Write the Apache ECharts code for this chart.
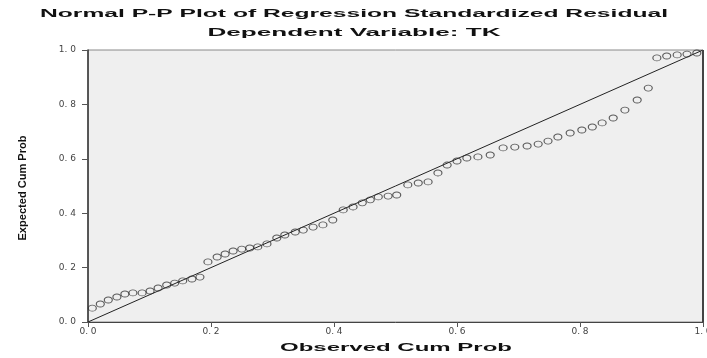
<!DOCTYPE html>
<html><head><meta charset="utf-8">
<script src="https://cdn.jsdelivr.net/npm/echarts@6/dist/echarts.min.js"></script>
<style>html,body{margin:0;padding:0;background:#fff}#c{width:707px;height:358px}</style>
</head><body><div id="c"></div><script>
const titleText = 'Normal P-P Plot of Regression Standardized Residual';
const subtitleText = 'Dependent Variable: TK';
const xAxisName = 'Observed Cum Prob';
const yAxisName = 'Expected Cum Prob';
const tickValues = [0, 0.2, 0.4, 0.6, 0.8, 1.0];
const refLineX = [0, 1];
const refLineY = [0, 1];
const observedCumProb = [
  0.007, 0.020, 0.033, 0.047, 0.060, 0.073, 0.088, 0.101, 0.114, 0.128,
  0.141, 0.154, 0.169, 0.182, 0.195, 0.210, 0.223, 0.236, 0.250, 0.263,
  0.276, 0.291, 0.307, 0.320, 0.337, 0.350, 0.366, 0.382, 0.398, 0.415,
  0.431, 0.446, 0.459, 0.472, 0.488, 0.502, 0.520, 0.537, 0.553, 0.569,
  0.584, 0.600, 0.616, 0.634, 0.654, 0.675, 0.694, 0.714, 0.732, 0.748,
  0.764, 0.784, 0.803, 0.820, 0.836, 0.854, 0.873, 0.893, 0.911, 0.925,
  0.941, 0.958, 0.974, 0.990
];
const expectedCumProb = [
  0.051, 0.066, 0.081, 0.092, 0.103, 0.107, 0.107, 0.114, 0.125, 0.136,
  0.143, 0.151, 0.158, 0.165, 0.221, 0.239, 0.250, 0.261, 0.268, 0.272,
  0.276, 0.287, 0.309, 0.320, 0.331, 0.338, 0.349, 0.357, 0.375, 0.412,
  0.423, 0.438, 0.449, 0.460, 0.463, 0.467, 0.504, 0.511, 0.515, 0.548,
  0.577, 0.592, 0.603, 0.607, 0.614, 0.640, 0.643, 0.647, 0.654, 0.665,
  0.680, 0.695, 0.706, 0.717, 0.732, 0.750, 0.779, 0.816, 0.860, 0.971,
  0.978, 0.982, 0.985, 0.989
];

function measure(text, font) {
  const ctx = document.createElement('canvas').getContext('2d');
  ctx.font = font;
  return ctx.measureText(text).width;
}
function stretchedText(text, size, target, cx, cy, rotation) {
  const font = 'bold ' + size + 'px "Liberation Sans"';
  const w = measure(text, font);
  return {
    type: 'text', x: cx, y: cy, rotation: rotation || 0,
    scaleX: target / w, scaleY: 1,
    style: { text: text, x: 0, y: 0, textAlign: 'center', textVerticalAlign: 'middle',
      font: font, fill: '#111' }
  };
}

const chart = echarts.init(document.getElementById('c'), null, { renderer: 'canvas' });
const labelStyle = { fontSize: 9, color: '#444', fontFamily: 'DejaVu Sans',
  formatter: v => tickValues.indexOf(v) >= 0 ? v.toFixed(1).replace('.', '. ') : '' };
chart.setOption({
  animation: false,
  backgroundColor: '#fff',
  grid: { left: 88, right: 4, top: 50, bottom: 36, show: true, outerBoundsMode: 'none',
    containLabel: false,
    backgroundColor: '#efefef', borderColor: '#8a8a8a', borderWidth: 1 },
  xAxis: { type: 'value', min: 0, max: 1, interval: 0.2,
    axisLine: { show: true, onZero: false, lineStyle: { color: '#444', width: 1 } },
    axisTick: { show: true, length: 5, lineStyle: { color: '#555' } },
    axisLabel: Object.assign({ margin: 5 }, labelStyle),
    splitLine: { show: false } },
  yAxis: { type: 'value', min: 0, max: 1, interval: 0.2,
    axisLine: { show: true, onZero: false, lineStyle: { color: '#333', width: 1.5 } },
    axisTick: { show: true, length: 6, lineStyle: { color: '#555' } },
    axisLabel: Object.assign({ margin: 12 }, labelStyle),
    splitLine: { show: false } },
  graphic: [
    stretchedText(titleText, 11, 628, 354, 14),
    stretchedText(subtitleText, 11, 293, 354, 33),
    stretchedText(xAxisName, 11, 232, 396, 348),
    stretchedText(yAxisName, 10, 105, 23, 188, Math.PI / 2),
    { type: 'line', shape: { x1: 703, y1: 50, x2: 703, y2: 322 },
      style: { stroke: '#444', lineWidth: 2 }, z: 10 }
  ],
  series: [
    { type: 'line', data: refLineX.map((x, i) => [x, refLineY[i]]), symbol: 'none',
      lineStyle: { color: '#222', width: 1 }, z: 2 },
    { type: 'scatter', data: observedCumProb.map((x, i) => [x, expectedCumProb[i]]),
      symbol: 'circle', symbolSize: [8, 6],
      itemStyle: { color: 'rgba(0,0,0,0)', borderColor: '#333', borderWidth: 1 }, z: 3 }
  ]
});
</script></body></html>
